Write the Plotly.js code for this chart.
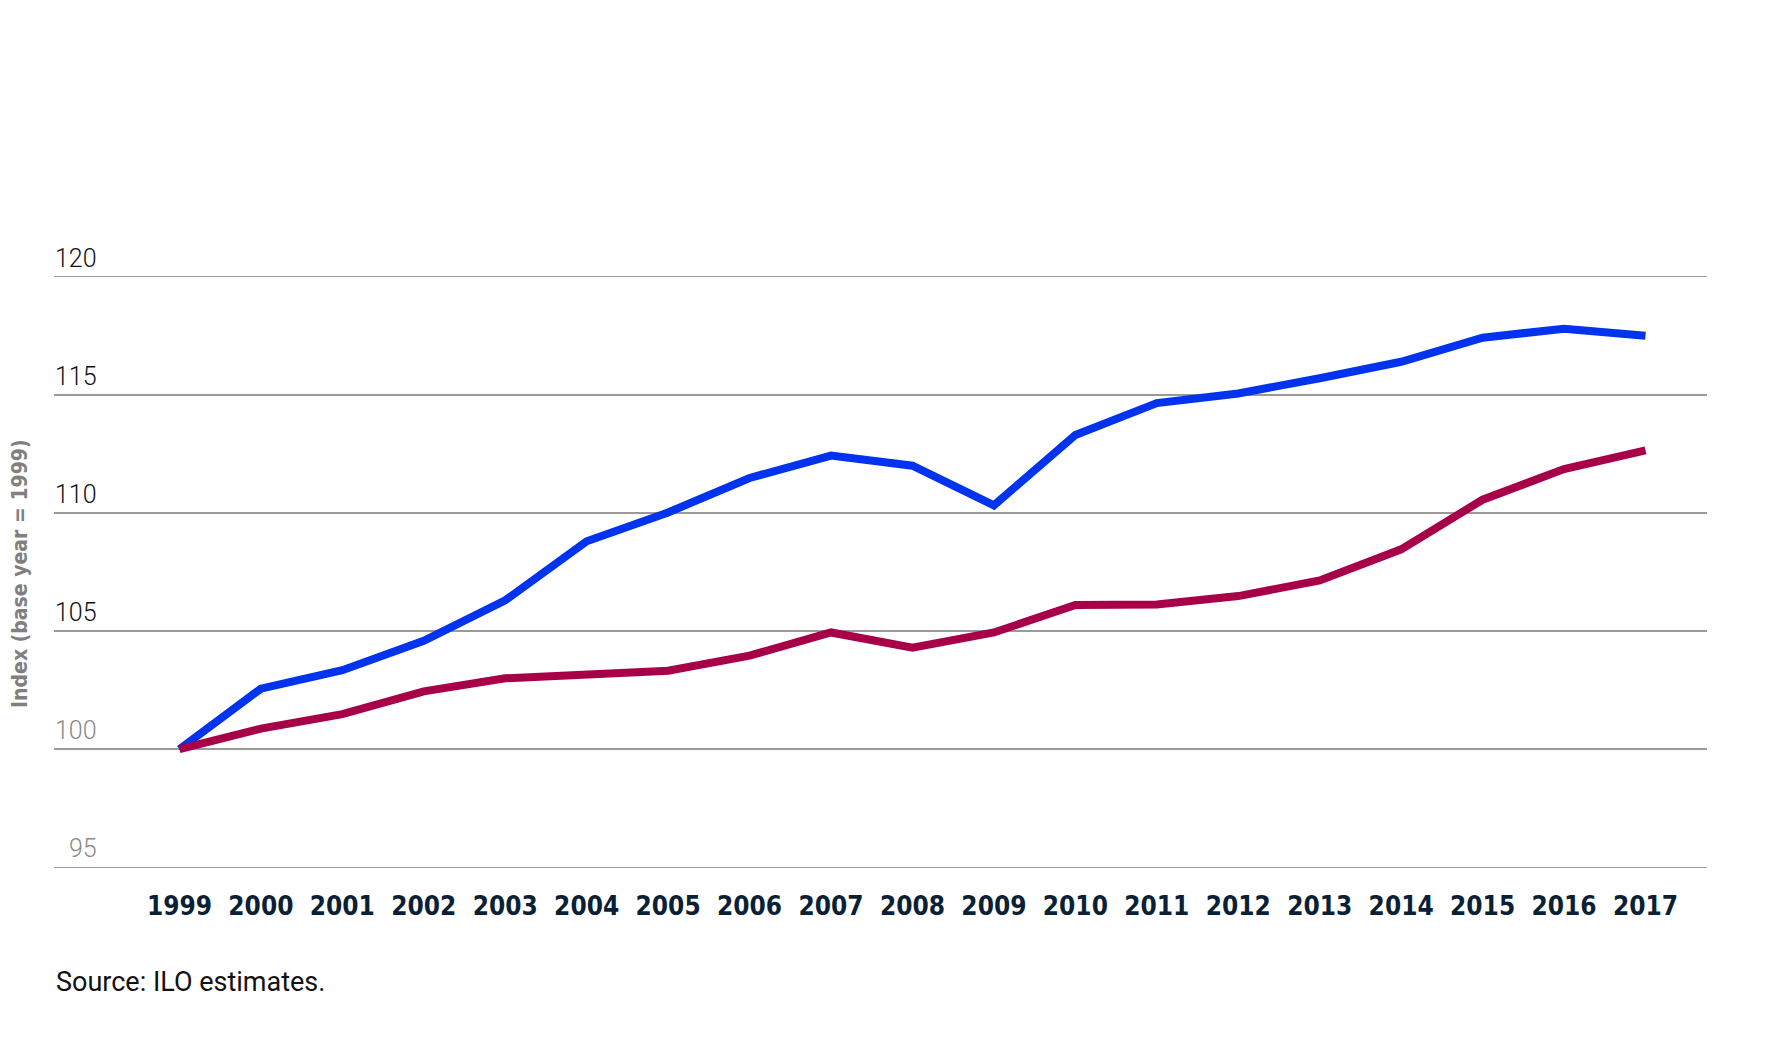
<!DOCTYPE html>
<html>
<head>
<meta charset="utf-8">
<script src="https://cdn.plot.ly/plotly-3.0.1.min.js"></script>
<style>
  html, body { margin: 0; padding: 0; background: #ffffff; }
  #chart { width: 1778px; height: 1040px; }
</style>
</head>
<body>
<div id="chart"></div>
<script>
  // Index values, base year 1999 = 100
  var years = [1999, 2000, 2001, 2002, 2003, 2004, 2005, 2006, 2007, 2008,
               2009, 2010, 2011, 2012, 2013, 2014, 2015, 2016, 2017];
  var blueSeries = [100, 102.56, 103.34, 104.59, 106.3, 108.8, 110.02, 111.48, 112.43, 112.0,
                    110.32, 113.3, 114.65, 115.06, 115.7, 116.4, 117.42, 117.8, 117.5];
  var redSeries = [100, 100.87, 101.48, 102.45, 103.0, 103.13, 103.32, 103.96, 104.94, 104.3,
                   104.94, 106.1, 106.12, 106.48, 107.14, 108.46, 110.56, 111.86, 112.65];
  var yTicks = [95, 100, 105, 110, 115, 120];
  var yTickLabels = ["95", "100", "105", "110", "115", "120"];
  var yTitle = "Index (base year = 1999)";
  var sourceNote = "Source: ILO estimates.";

  var LABEL_FONT = "Roboto, 'Liberation Sans', sans-serif";
  var BOLD_NARROW = "'Liberation Sans Narrow', 'DejaVu Sans Condensed', Roboto, sans-serif";

  var traces = [
    {
      x: years, y: blueSeries, type: "scatter", mode: "lines",
      line: { color: "#0033ee", width: 8, shape: "linear" },
      hoverinfo: "skip"
    },
    {
      x: years, y: redSeries, type: "scatter", mode: "lines",
      line: { color: "#a80048", width: 8, shape: "linear" },
      hoverinfo: "skip"
    }
  ];

  // y tick labels sit above their gridlines, right-aligned
  var annotations = yTicks.map(function (v, i) {
    return {
      xref: "paper", yref: "y", x: 0.0272, y: v,
      xanchor: "right", yanchor: "bottom", yshift: 2,
      text: yTickLabels[i], showarrow: false,
      font: { family: LABEL_FONT, size: 25, weight: 300, color: v <= 100 ? "#8a8a8a" : "#111111" }
    };
  });

  annotations.push({
    xref: "paper", yref: "paper", x: -0.0205, y: 0.497,
    xanchor: "center", yanchor: "middle", textangle: -90,
    text: yTitle, showarrow: false,
    font: { family: BOLD_NARROW, size: 21, weight: 700, color: "#808080" }
  });

  annotations.push({
    xref: "paper", yref: "paper", x: 0.0, y: -0.184,
    xanchor: "left", yanchor: "middle",
    text: sourceNote, showarrow: false,
    font: { family: LABEL_FONT, size: 27, color: "#111111" }
  });

  var layout = {
    width: 1778,
    height: 1040,
    paper_bgcolor: "#ffffff",
    plot_bgcolor: "#ffffff",
    showlegend: false,
    margin: { l: 53.5, r: 71, t: 272, b: 168 },
    xaxis: {
      range: [1997.46, 2017.755],
      tickmode: "array",
      tickvals: years,
      ticktext: years.map(String),
      showgrid: false,
      zeroline: false,
      showline: false,
      ticks: "",
      ticklabelstandoff: 16,
      tickfont: { family: BOLD_NARROW, size: 26, weight: 700, color: "#0b1f35" },
      fixedrange: true
    },
    yaxis: {
      // small padding so the 95 and 120 gridlines are drawn at the edges
      range: [94.8, 120.2],
      tickmode: "array",
      tickvals: yTicks,
      showticklabels: false,
      showgrid: true,
      gridcolor: "#9a9a9a",
      gridwidth: 1.5,
      zeroline: false,
      showline: false,
      ticks: "",
      fixedrange: true
    },
    annotations: annotations
  };

  Plotly.newPlot("chart", traces, layout, { displayModeBar: false, staticPlot: true });
</script>
</body>
</html>
